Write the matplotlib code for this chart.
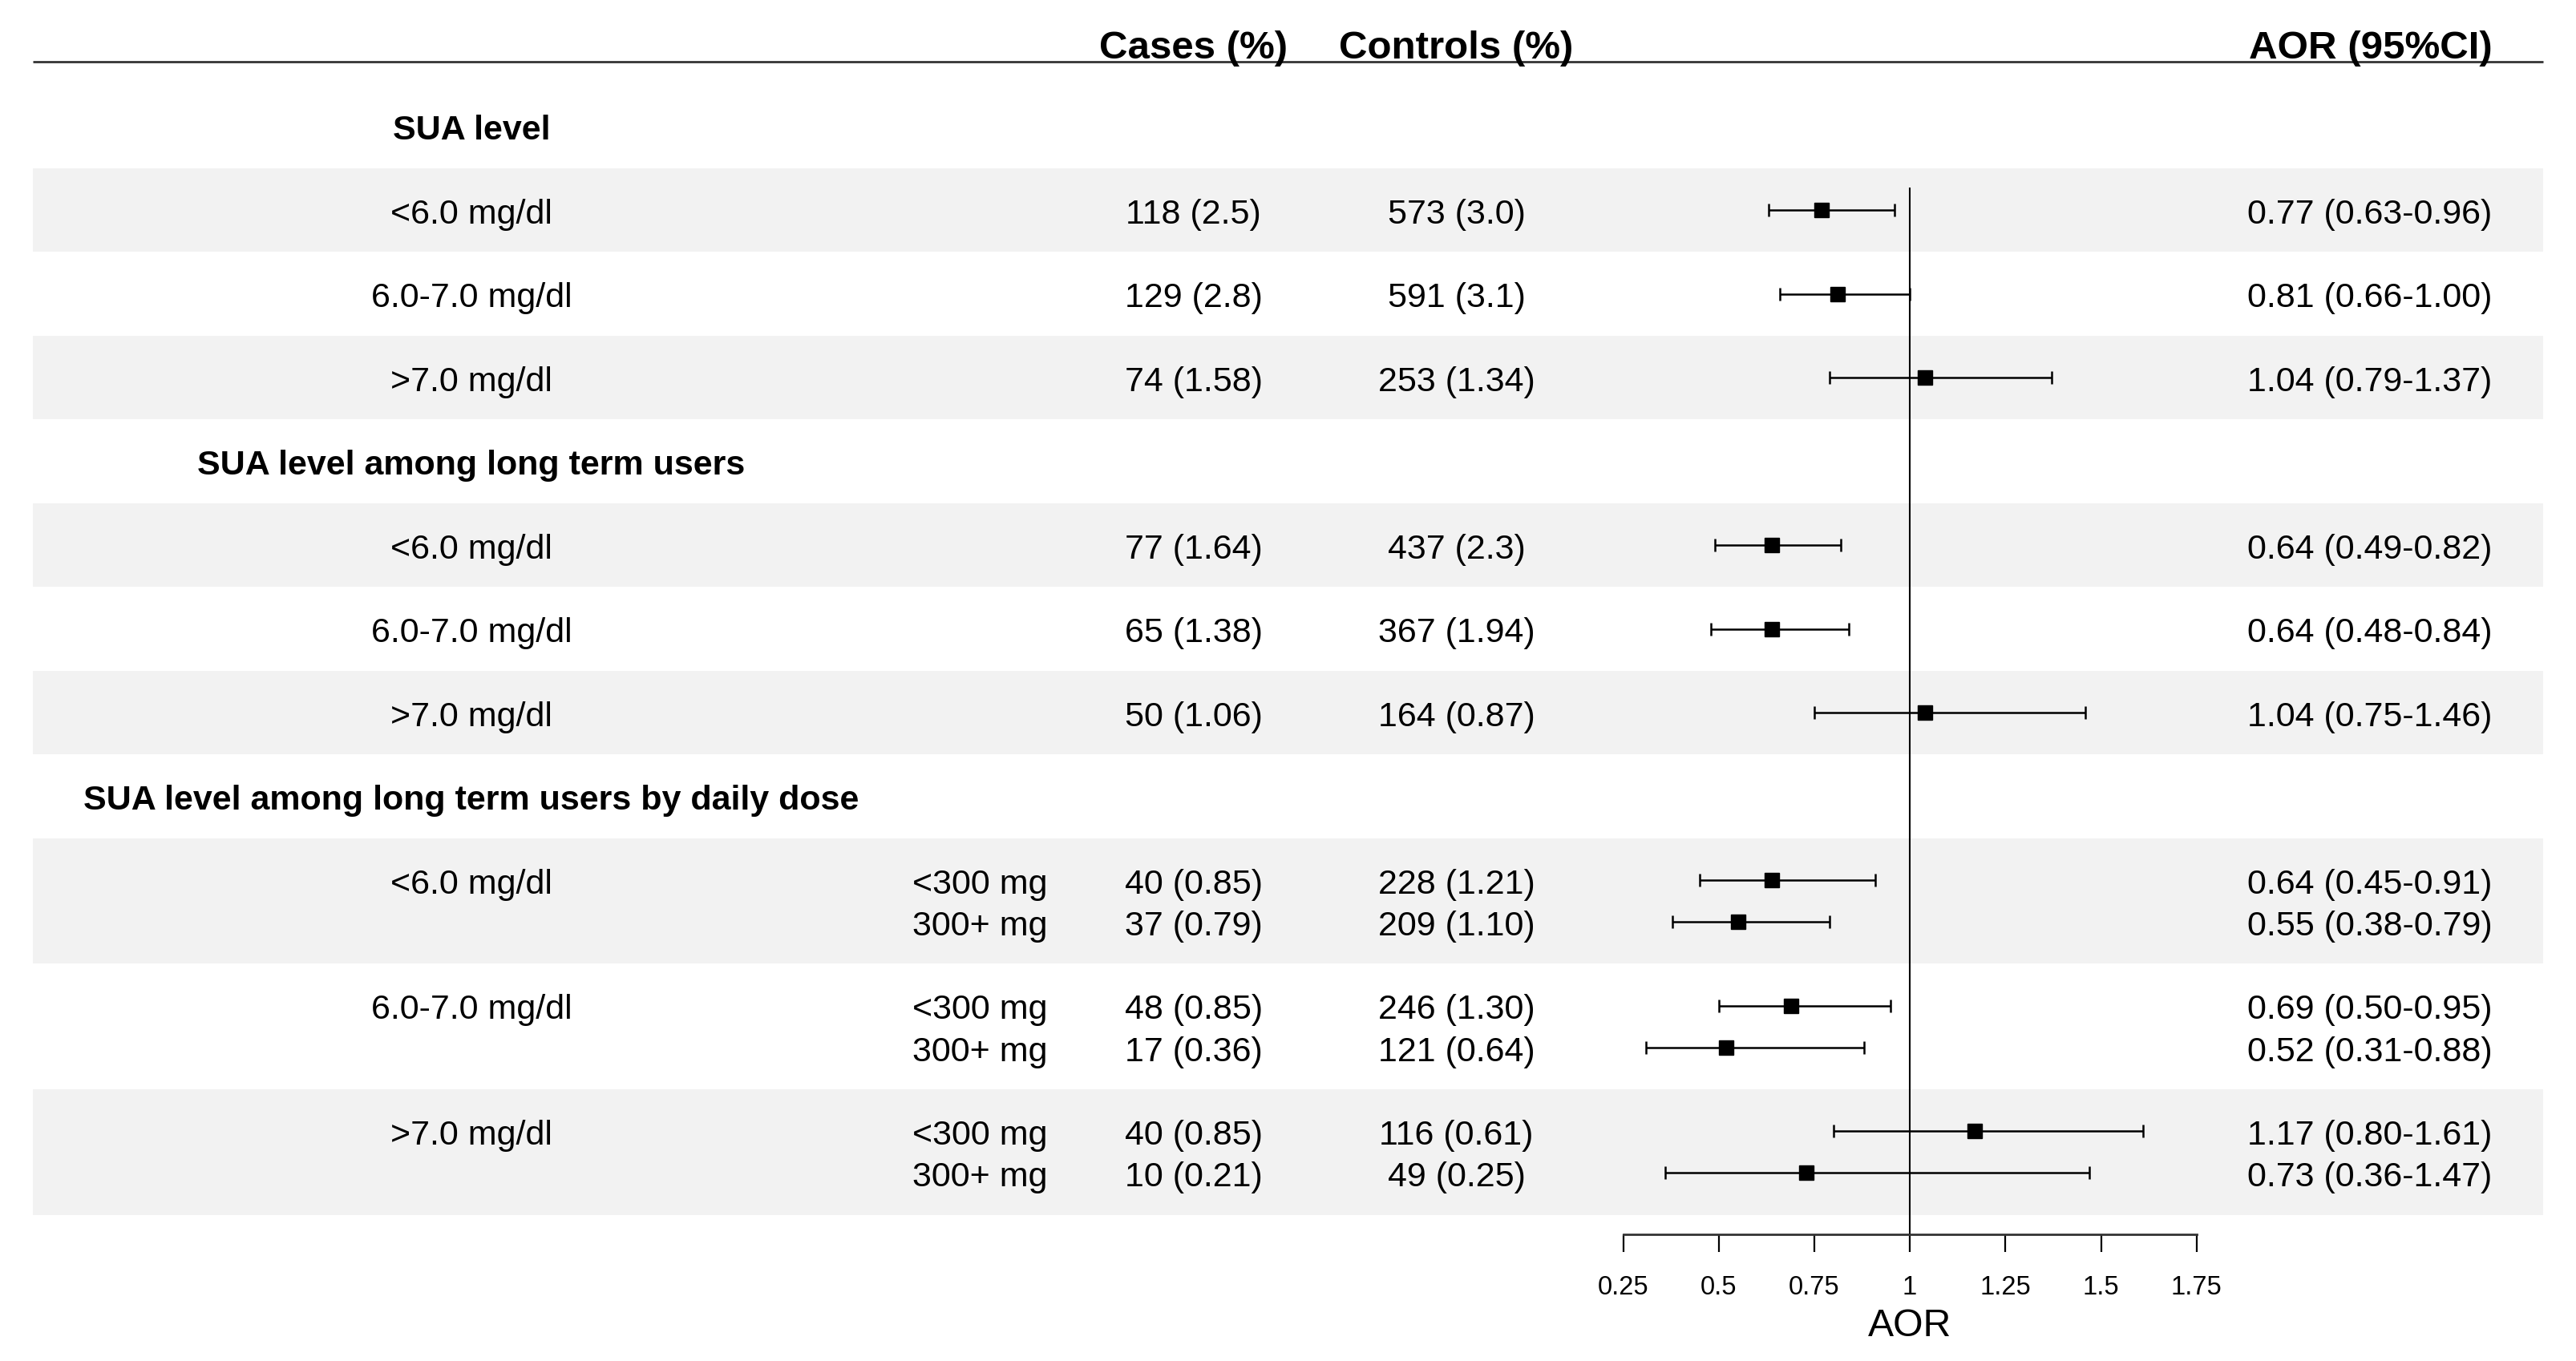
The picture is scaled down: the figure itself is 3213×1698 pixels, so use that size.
import numpy as np
import matplotlib.pyplot as plt

plt.rcParams['font.family'] = ['Liberation Sans', 'DejaVu Sans']

groups = ["SUA level", "SUA level among long term users",
          "SUA level among long term users by daily dose"]
levels = ["<6.0 mg/dl", "6.0-7.0 mg/dl", ">7.0 mg/dl"]
doses = ["<300 mg", "300+ mg"]

cases = ["118 (2.5)", "129 (2.8)", "74 (1.58)",
         "77 (1.64)", "65 (1.38)", "50 (1.06)",
         "40 (0.85)", "37 (0.79)", "48 (0.85)", "17 (0.36)", "40 (0.85)", "10 (0.21)"]
controls = ["573 (3.0)", "591 (3.1)", "253 (1.34)",
            "437 (2.3)", "367 (1.94)", "164 (0.87)",
            "228 (1.21)", "209 (1.10)", "246 (1.30)", "121 (0.64)", "116 (0.61)", "49 (0.25)"]
aor = np.array([0.77, 0.81, 1.04, 0.64, 0.64, 1.04, 0.64, 0.55, 0.69, 0.52, 1.17, 0.73])
lo = np.array([0.63, 0.66, 0.79, 0.49, 0.48, 0.75, 0.45, 0.38, 0.50, 0.31, 0.80, 0.36])
hi = np.array([0.96, 1.00, 1.37, 0.82, 0.84, 1.46, 0.91, 0.79, 0.95, 0.88, 1.61, 1.47])

ticks = [0.25, 0.5, 0.75, 1, 1.25, 1.5, 1.75]
tick_labels = ["0.25", "0.5", "0.75", "1", "1.25", "1.5", "1.75"]
headers = ["Cases (%)", "Controls (%)", "AOR (95%CI)"]

# column positions (fraction of width)
x_lab, x_dose, x_cases, x_ctrl, x_aor = 0.183, 0.3804, 0.4633, 0.5654, 0.9675
x_left, x_right = 0.0128, 0.9872
band_col = '#f2f2f2'
fs = 31
dy = 0.09  # small nudge so text sits centred like the original

fig = plt.figure(figsize=(32.13, 16.99), dpi=100)
ax = fig.add_axes([0, 0, 1, 1])
ax.set_xlim(0, 1)
ax.set_ylim(28.49, -4.04)
ax.axis('off')

ax2 = fig.add_axes([0.6301, 0, 0.2226, 1])
ax2.set_xlim(0.25, 1.75)
ax2.set_ylim(28.49, -4.04)
ax2.patch.set_alpha(0)

# header
ax.hlines(-2.55, x_left, x_right, color='#333333', lw=2)
ax.text(x_cases, -2.98 + dy, headers[0], ha='center', va='center', fontsize=35.5, fontweight='bold')
ax.text(x_ctrl, -2.98 + dy, headers[1], ha='center', va='center', fontsize=35.5, fontweight='bold')
ax.text(x_aor, -2.98 + dy, headers[2], ha='right', va='center', fontsize=35.5, fontweight='bold')

# row layout
ypos = []
pos = -2
for g, grp in enumerate(groups):
    ax.text(x_lab, pos + 1 + dy, grp, ha='center', va='center', fontsize=fs, fontweight='bold')
    pos += 2
    for i, lev in enumerate(levels):
        h = 2 if g < 2 else 3
        if i % 2 == 0:
            ax.axhspan(pos, pos + h, x_left, x_right, color=band_col, lw=0, zorder=0)
        ax.text(x_lab, pos + 1 + dy, lev, ha='center', va='center', fontsize=fs)
        if g < 2:
            ypos.append(pos + 1)
        else:
            for k, d in enumerate(doses):
                ax.text(x_dose, pos + 1 + k + dy, d, ha='center', va='center', fontsize=fs)
                ypos.append(pos + 1 + k)
        pos += h

for y, c, ct, a, l, u in zip(ypos, cases, controls, aor, lo, hi):
    ax.text(x_cases, y + dy, c, ha='center', va='center', fontsize=fs)
    ax.text(x_ctrl, y + dy, ct, ha='center', va='center', fontsize=fs)
    ax.text(x_aor, y + dy, "%.2f (%.2f-%.2f)" % (a, l, u), ha='right', va='center', fontsize=fs)

# forest plot
axis_y = pos + 0.47
ax2.plot([1, 1], [0.47, axis_y], color='black', lw=1.5, zorder=1)
ax2.errorbar(aor, ypos, xerr=[aor - lo, hi - aor], fmt='s', color='black',
             ms=12.5, capsize=6, elinewidth=1.8, capthick=1.8, zorder=3)

for s in ['left', 'right', 'top']:
    ax2.spines[s].set_visible(False)
ax2.spines['bottom'].set_position(('data', axis_y))
ax2.spines['bottom'].set_linewidth(2)
ax2.spines['bottom'].set_color('#333333')
ax2.set_yticks([])
ax2.set_xticks(ticks, labels=tick_labels)
ax2.tick_params(axis='x', length=16, width=1.6, labelsize=23.5, pad=20)
ax2.set_xlabel('AOR', fontsize=34.7, labelpad=7)

fig.savefig('out.png', dpi=100)
